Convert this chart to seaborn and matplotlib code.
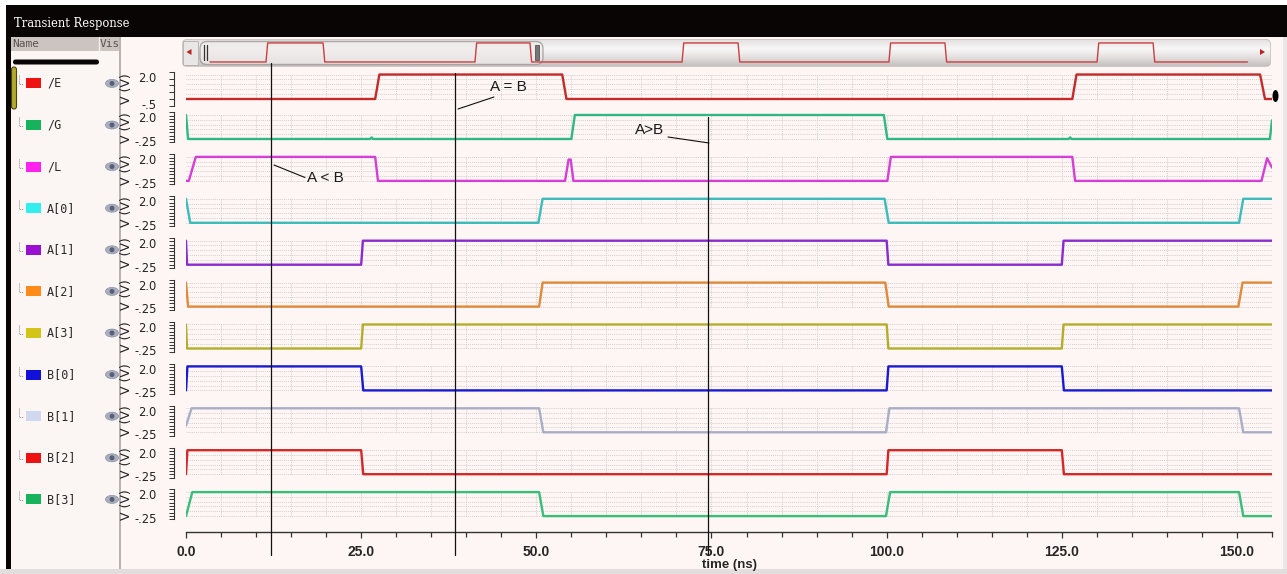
import numpy as np
import matplotlib
matplotlib.use("Agg")
import matplotlib.pyplot as plt
import seaborn as sns
from matplotlib.patches import Rectangle, FancyBboxPatch, Ellipse, Polygon
from matplotlib.ticker import FixedLocator
from matplotlib.colors import LinearSegmentedColormap
from matplotlib.transforms import blended_transform_factory

# ------------------------------------------------------------------ data
signal_names = ["/E", "/G", "/L", "A[0]", "A[1]", "A[2]", "A[3]",
                "B[0]", "B[1]", "B[2]", "B[3]"]
y_low_limits = [-0.5] + [-0.25] * 10
y_low_labels = ["-.5"] + ["-.25"] * 10
y_high_limit = 2.0
y_high_label = "2.0"

E_t = [0.0, 27.0, 27.6, 53.7, 54.3, 126.5, 127.1, 153.3, 154.0, 155.0]
E_v = [0.0, 0.0, 1.8, 1.8, 0.0, 0.0, 1.8, 1.8, 0.0, 0.0]
G_t = [0.0, 0.3, 26.3, 26.5, 26.7, 55.0, 55.5, 99.6, 100.1, 126.0, 126.2, 126.4, 154.7, 155.0]
G_v = [1.8, 0.0, 0.0, 0.12, 0.0, 0.0, 1.8, 1.8, 0.0, 0.0, 0.12, 0.0, 0.0, 1.4]
L_t = [0.0, 0.4, 1.4, 27.0, 27.4, 54.1, 54.6, 54.9, 55.3, 100.1, 100.6, 126.5, 126.9, 153.5, 154.3, 155.0]
L_v = [0.0, 0.0, 1.8, 1.8, 0.0, 0.0, 1.6, 1.6, 0.0, 0.0, 1.8, 1.8, 0.0, 0.0, 1.7, 1.0]
A0_t = [0.0, 0.6, 50.3, 50.9, 99.7, 100.3, 150.3, 150.9, 155.0]
A0_v = [1.8, 0.0, 0.0, 1.8, 1.8, 0.0, 0.0, 1.8, 1.8]
A1_t = [0.0, 0.15, 25.0, 25.25, 100.0, 100.25, 125.0, 125.25, 155.0]
A1_v = [1.8, 0.0, 0.0, 1.8, 1.8, 0.0, 0.0, 1.8, 1.8]
A2_t = [0.0, 0.3, 50.4, 50.9, 99.8, 100.3, 150.2, 150.8, 155.0]
A2_v = [1.8, 0.0, 0.0, 1.8, 1.8, 0.0, 0.0, 1.8, 1.8]
A3_t = [0.0, 0.15, 25.0, 25.25, 100.0, 100.25, 125.0, 125.25, 155.0]
A3_v = [1.8, 0.0, 0.0, 1.8, 1.8, 0.0, 0.0, 1.8, 1.8]
B0_t = [0.0, 0.2, 25.0, 25.3, 100.0, 100.25, 125.0, 125.3, 155.0]
B0_v = [0.0, 1.8, 1.8, 0.0, 0.0, 1.8, 1.8, 0.0, 0.0]
B1_t = [0.0, 0.8, 50.4, 51.0, 99.9, 100.4, 150.3, 150.9, 155.0]
B1_v = [0.5, 1.8, 1.8, 0.0, 0.0, 1.8, 1.8, 0.0, 0.0]
B2_t = [0.0, 0.2, 25.0, 25.3, 100.0, 100.25, 125.0, 125.3, 155.0]
B2_v = [0.0, 1.8, 1.8, 0.0, 0.0, 1.8, 1.8, 0.0, 0.0]
B3_t = [0.0, 0.9, 50.4, 51.0, 99.9, 100.5, 150.3, 150.9, 155.0]
B3_v = [0.0, 1.8, 1.8, 0.0, 0.0, 1.8, 1.8, 0.0, 0.0]

signal_times = [E_t, G_t, L_t, A0_t, A1_t, A2_t, A3_t, B0_t, B1_t, B2_t, B3_t]
signal_values = [E_v, G_v, L_v, A0_v, A1_v, A2_v, A3_v, B0_v, B1_v, B2_v, B3_v]

# overview (scroll bar) of /E over the whole simulation
overview_rise = [27.0, 127.7, 227.5, 327.2, 427.5]
overview_fall = [54.5, 154.2, 254.5, 354.2, 454.5]
overview_end = 500.0

time_ticks = [0, 25, 50, 75, 100, 125, 150]
time_tick_labels = ["0.0", "25.0", "50.0", "75.0", "100.0", "125.0", "150.0"]

cursor_times = [12.2, 38.4, 74.5]
annotation_texts = ["A < B", "A = B", "A>B"]

# ------------------------------------------------------------------ styles
line_colors = ["#c42a2a", "#2fb884", "#d63fd6", "#3bbcbc", "#8a2bd0", "#e08a3a",
               "#b5ad2a", "#1a1ad0", "#a9aec6", "#d42828", "#38bd7a"]
swatch_colors = ["#ee1111", "#16b25c", "#ff22ee", "#33eeee", "#9a0fd0", "#ff8a1a",
                 "#d4c418", "#1010d8", "#cfd8ee", "#ee1111", "#16b25c"]

sns.set_style("white")
plt.rcParams["font.family"] = ["DejaVu Sans"]

W, H = 1287, 574
fig = plt.figure(figsize=(W / 100, H / 100), dpi=100)


def fbox(x0, y0, x1, y1):
    return [x0 / W, 1 - y1 / H, (x1 - x0) / W, (y1 - y0) / H]


# ------------------------------------------------------------------ background
bg = fig.add_axes([0, 0, 1, 1], label="bg")
bg.set_zorder(0)
bg.axis("off")
bg.add_patch(Rectangle((0, 0), W, H, fc="white", ec="none"))
bg.add_patch(Rectangle((8, 5), W - 8, 32, fc="#0a0505", ec="none"))
bg.add_patch(Rectangle((6, 5), 5, 565, fc="#0a0505", ec="none"))
bg.add_patch(Rectangle((11, 37), 108, 532, fc="#fbf6f4", ec="none"))
bg.add_patch(Rectangle((11, 37), 108, 14, fc="#cbc4c1", ec="none"))
bg.plot([98.5, 98.5], [37, 51], color="#f4f0ee", lw=1)
bg.add_patch(Rectangle((119, 37), 2, 532, fc="#b9b2b0", ec="none"))
bg.add_patch(Rectangle((121, 37), 1162, 532, fc="#fdf6f4", ec="none"))
bg.add_patch(Rectangle((1283, 37), 4, 532, fc="#ebe7e6", ec="none"))
bg.add_patch(Rectangle((0, 569), W, 5, fc="#e2dede", ec="none"))
bg.text(14, 24, "Transient Response", color="white", family="DejaVu Serif",
        fontsize=8.3, va="center", ha="left")
bg.text(12, 44, "Name", color="#5a5450", family="DejaVu Sans Mono", fontsize=8, va="center")
bg.text(100, 44, "Vis", color="#5a5450", family="DejaVu Sans Mono", fontsize=8, va="center")
bg.add_patch(FancyBboxPatch((13, 59.5), 86, 5, boxstyle="round,pad=0,rounding_size=2.5",
                            fc="#0a0505", ec="none"))
bg.add_patch(FancyBboxPatch((11.5, 67), 5, 42, boxstyle="round,pad=0,rounding_size=2.5",
                            fc="#b3ab2c", ec="#4a4510", lw=0.8))

for i, name in enumerate(signal_names):
    yc = 83.4 + 41.6 * i
    bg.plot([19, 19, 23], [yc - 8, yc + 1, yc + 1], color="#8a8a8a", lw=0.7, ls=(0, (1, 1)))
    bg.add_patch(Rectangle((26, yc - 5), 15, 10, fc=swatch_colors[i], ec="none"))
    bg.text(47, yc, name, family="DejaVu Sans Mono", fontsize=8.5, color="#2a2a2a", va="center")
    bg.add_patch(Ellipse((112, yc), 13, 8, fc="#aab0c2", ec="#8a8fa2", lw=0.5))
    bg.add_patch(Ellipse((112, yc), 5, 5, fc="#5a6074", ec="none"))

# scroll bar track and thumb
track = FancyBboxPatch((183, 40), 1087, 26, boxstyle="round,pad=0,rounding_size=3",
                       fc="none", ec="#aaa4a4", lw=0.8)
bg.add_patch(track)
gcmap = LinearSegmentedColormap.from_list("g", ["#e6e2e2", "#f8f7f7", "#e4e0e0", "#c6c1c1"])
im = bg.imshow(np.linspace(0, 1, 40)[:, None], extent=(183, 1270, 66, 40), cmap=gcmap,
               aspect="auto", zorder=1)
im.set_clip_path(track)
bg.add_patch(Rectangle((183, 41), 15, 24, fc="#e9e6e6", ec="#b4aeae", lw=0.6, zorder=2))
bg.add_patch(Polygon([[186.5, 52], [191.5, 49], [191.5, 55]], closed=True, fc="#c02020",
                     ec="none", zorder=3))
bg.add_patch(Polygon([[1265, 52], [1260, 49], [1260, 55]], closed=True, fc="#c02020",
                     ec="none", zorder=3))
bg.add_patch(FancyBboxPatch((200, 41.5), 343, 23, boxstyle="round,pad=0,rounding_size=7",
                            fc="#efebeb", ec="#9a9494", lw=1.0, alpha=0.75, zorder=2))
bg.plot([204, 204], [45, 60], color="#333", lw=0.9, zorder=3)
bg.plot([206.5, 206.5], [45, 60], color="#333", lw=0.9, zorder=3)
bg.add_patch(Rectangle((535, 45), 4, 15, fc="#777", ec="#444", lw=0.5, zorder=3))
bg.set_xlim(0, W)
bg.set_ylim(H, 0)

# overview line inside scroll bar
sb = fig.add_axes(fbox(183, 40, 1270, 66), label="sb")
sb.set_zorder(2)
sb.patch.set_visible(False)
ov_t, ov_v = [0.0], [0.0]
for r, f in zip(overview_rise, overview_fall):
    ov_t += [r, r + 0.8, f, f + 0.8]
    ov_v += [0.0, 1.8, 1.8, 0.0]
ov_t.append(overview_end)
ov_v.append(0.0)
sns.lineplot(x=ov_t, y=ov_v, ax=sb, color="#c84040", lw=1.0, estimator=None, sort=False)
sb.set_xlim((183 - 210) / 2.075, (1270 - 210) / 2.075)
sb.set_ylim(-0.38, 2.08)
sb.axis("off")

# ------------------------------------------------------------------ strips
strip_axes = []
for i in range(len(signal_names)):
    if i == 0:
        top, bot = 71.8, 105.8
    else:
        hi_y = 115 + 41.9 * (i - 1)
        top, bot = hi_y - 2.67, hi_y - 2.67 + 30
    ax = fig.add_axes(fbox(186, top, 1272, bot), label=f"s{i}")
    ax.set_zorder(3)
    ax.patch.set_visible(False)
    ylo = y_low_limits[i]
    ax.hlines(np.linspace(0, 1.8, 6), 0, 155, colors="#c9c3c3", linestyles=(0, (1, 1.3)),
              lw=0.6, zorder=0)
    ax.vlines(np.arange(5, 155, 5), 0, 1.8, colors="#cbc5c5", linestyles=(0, (1, 1.3)),
              lw=0.6, zorder=0)
    sns.lineplot(x=signal_times[i], y=signal_values[i], ax=ax, color=line_colors[i],
                 lw=1.7, estimator=None, sort=False, zorder=2)
    ax.set_xlim(0, 155)
    ax.set_ylim(ylo, y_high_limit)
    for s in ("top", "right"):
        ax.spines[s].set_visible(False)
    ax.spines["left"].set_position(("outward", 9))
    ax.spines["left"].set_color("#333333")
    ax.spines["left"].set_linewidth(0.8)
    ax.yaxis.remove_overlapping_locs = False
    ax.set_yticks([ylo, y_high_limit])
    ax.set_yticklabels([y_low_labels[i], y_high_label])
    labs = ax.get_yticklabels()
    labs[0].set_verticalalignment("center")
    labs[1].set_verticalalignment("top")
    step = 0.5 if i == 0 else 0.25
    ax.yaxis.set_minor_locator(FixedLocator(np.arange(ylo, y_high_limit + 1e-6, step)))
    ax.tick_params(axis="y", which="major", length=0, pad=12, labelsize=8.3, labelcolor="#222")
    ax.tick_params(axis="y", which="minor", length=3.5, width=0.7, color="#333", direction="out",
                   left=True)
    ax.set_ylabel("V (V)", fontsize=9, color="#222")
    ax.yaxis.set_label_coords(-0.049, 0.5)
    if i < len(signal_names) - 1:
        ax.spines["bottom"].set_visible(False)
        ax.set_xticks([])
    strip_axes.append(ax)

axb = strip_axes[-1]
axb.spines["bottom"].set_position(("outward", 9))
axb.spines["bottom"].set_color("#333333")
axb.spines["bottom"].set_linewidth(1.0)
axb.set_xticks(time_ticks)
axb.set_xticklabels(time_tick_labels, fontweight="bold",
                    family=["Liberation Sans Narrow", "Liberation Sans", "DejaVu Sans"])
axb.xaxis.set_minor_locator(FixedLocator(np.arange(0, 156, 5)))
axb.tick_params(axis="x", which="major", length=4.5, width=0.9, color="#333", pad=5,
                labelsize=10, direction="out", bottom=True)
axb.tick_params(axis="x", which="minor", length=3.5, width=0.9, color="#333", direction="out",
                bottom=True)
axb.set_xlabel("time (ns)", fontsize=9.5, fontweight="bold", labelpad=0,
               family=["Liberation Sans Narrow", "Liberation Sans", "DejaVu Sans"])

# ------------------------------------------------------------------ overlay: cursors & notes
ov = fig.add_axes([0, 0, 1, 1], label="ov")
ov.set_zorder(5)
ov.patch.set_visible(False)
ov.axis("off")
ov.set_xlim(0, W)
ov.set_ylim(H, 0)
blend = blended_transform_factory(axb.transData, ov.transData)
cursor_starts = [63, 73, 117]
for t, y0 in zip(cursor_times, cursor_starts):
    ov.plot([t, t], [y0, 555], color="#111111", lw=0.9, transform=blend)

note_font = dict(family=["Liberation Sans", "DejaVu Sans"], fontsize=11, color="#1a1a1a",
                 va="center", ha="left")
ov.text(307, 178, annotation_texts[0], **note_font)
ov.plot([274, 305], [165, 177.5], color="#111", lw=0.8)
ov.text(490, 87, annotation_texts[1], **note_font)
ov.plot([458, 494], [109, 97], color="#111", lw=0.8)
ov.text(635, 130, annotation_texts[2], **note_font)
ov.plot([668, 709], [137, 143], color="#111", lw=0.8)
ov.add_patch(Ellipse((1275.5, 96), 6, 12, fc="#050505", ec="none"))

fig.savefig("out.png", dpi=100)
